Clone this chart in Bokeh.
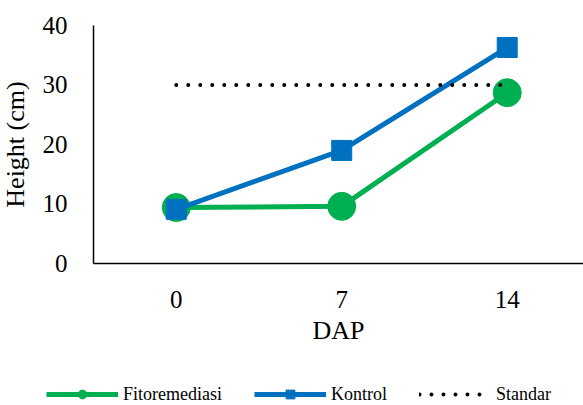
from bokeh.plotting import figure
from bokeh.models import Legend, LegendItem, FixedTicker
from bokeh.embed import file_html
from bokeh.resources import INLINE

days = ["0", "7", "14"]
fitoremediasi = [9.4, 9.6, 28.7]
kontrol = [9.1, 19.0, 36.3]
standar = [30, 30, 30]
y_ticks = [0, 10, 20, 30, 40]

xs = list(range(len(days)))
FONT = "Liberation Serif"
GREEN = "#00B050"
BLUE = "#0070C0"

# frame covers the whole page; axes are pinned at x=-0.5 and y=0
X_LO, X_HI = -1.062, 2.461
Y_LO, Y_HI = -23.87, 44.2

p = figure(width=583, height=405, output_backend="svg", toolbar_location=None,
           x_range=(X_LO, X_HI), y_range=(Y_LO, Y_HI),
           min_border_left=0, min_border_right=0, min_border_top=0, min_border_bottom=0)
p.outline_line_color = None
p.grid.visible = False

g1 = p.line(xs, fitoremediasi, line_color=GREEN, line_width=5)
g2 = p.scatter(xs, fitoremediasi, marker="circle", size=28, fill_color=GREEN, line_color=GREEN)
b1 = p.line(xs, kontrol, line_color=BLUE, line_width=5)
b2 = p.scatter(xs, kontrol, marker="square", size=20, fill_color=BLUE, line_color=BLUE)
s1 = p.line(xs, standar, line_color="black", line_width=4, line_dash="0 12", line_cap="round")

p.xaxis.ticker = FixedTicker(ticks=xs)
p.xaxis.major_label_overrides = {i: d for i, d in enumerate(days)}
p.xaxis.fixed_location = 0
p.xaxis.bounds = (-0.5, X_HI)
p.yaxis.ticker = FixedTicker(ticks=y_ticks)
p.yaxis.fixed_location = -0.5
p.yaxis.bounds = (0, 40)
for ax in (p.xaxis, p.yaxis):
    ax.major_tick_line_color = None
    ax.minor_tick_line_color = None
    ax.axis_line_color = "black"
    ax.axis_line_width = 1.5
    ax.major_label_text_font = FONT
    ax.major_label_text_font_size = "25px"
    ax.major_label_text_color = "black"
    ax.axis_label_text_font = FONT
    ax.axis_label_text_font_size = "26px"
    ax.axis_label_text_font_style = "normal"
    ax.axis_label_text_color = "black"
p.xaxis.axis_label = "DAP"
p.yaxis.axis_label = "Height (cm)"
p.yaxis.major_label_standoff = 20
p.yaxis.axis_label_standoff = 10
p.xaxis.major_label_standoff = 22
p.xaxis.axis_label_standoff = 4

legend = Legend(items=[
    LegendItem(label="Fitoremediasi", renderers=[g1, g2]),
    LegendItem(label="Kontrol", renderers=[b1, b2]),
    LegendItem(label="Standar", renderers=[s1]),
], orientation="horizontal", location=(46, 0),
   label_text_font=FONT, label_text_font_size="18px", label_text_color="black",
   glyph_width=72, glyph_height=22, label_height=22, spacing=32, label_standoff=5,
   border_line_color=None, background_fill_alpha=0, margin=0, padding=0)
p.add_layout(legend, "center")

open("out.html", "w").write(file_html(p, INLINE))
